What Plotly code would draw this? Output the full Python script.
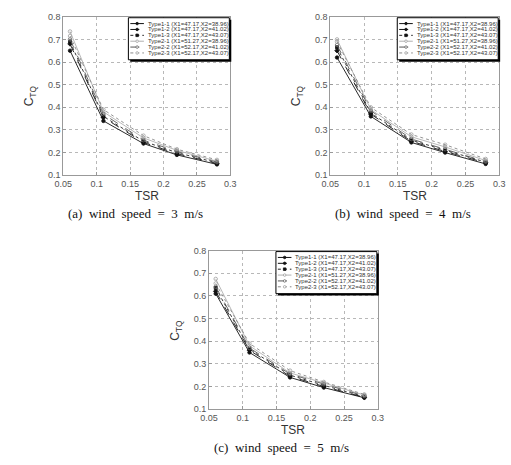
import plotly.graph_objects as go

W, H = 511, 465

tsr = [0.06, 0.11, 0.17, 0.22, 0.28]
series_names = [
    "Type1-1 (X1=47.17,X2=38.96)",
    "Type1-2 (X1=47.17,X2=41.02)",
    "Type1-3 (X1=47.17,X2=43.07)",
    "Type2-1 (X1=51.27,X2=38.96)",
    "Type2-2 (X1=52.17,X2=41.02)",
    "Type2-3 (X1=52.17,X2=43.07)",
]
# wind speed = 3 m/s
ctq_3 = [
    [0.650, 0.340, 0.240, 0.190, 0.148],
    [0.680, 0.355, 0.245, 0.195, 0.152],
    [0.690, 0.360, 0.250, 0.200, 0.155],
    [0.735, 0.380, 0.265, 0.210, 0.162],
    [0.700, 0.370, 0.255, 0.205, 0.158],
    [0.715, 0.390, 0.275, 0.215, 0.168],
]
# wind speed = 4 m/s
ctq_4 = [
    [0.620, 0.360, 0.245, 0.200, 0.150],
    [0.650, 0.370, 0.250, 0.205, 0.155],
    [0.665, 0.375, 0.255, 0.210, 0.158],
    [0.700, 0.390, 0.270, 0.225, 0.165],
    [0.675, 0.385, 0.260, 0.215, 0.160],
    [0.690, 0.400, 0.280, 0.235, 0.172],
]
# wind speed = 5 m/s
ctq_5 = [
    [0.610, 0.350, 0.240, 0.195, 0.150],
    [0.620, 0.360, 0.245, 0.200, 0.152],
    [0.635, 0.365, 0.250, 0.205, 0.155],
    [0.675, 0.380, 0.260, 0.215, 0.162],
    [0.640, 0.370, 0.255, 0.210, 0.158],
    [0.655, 0.390, 0.270, 0.220, 0.165],
]
captions = ["(a)  wind  speed  =  3  m/s", "(b)  wind  speed  =  4  m/s", "(c)  wind  speed  =  5  m/s"]
x_ticks = [0.05, 0.1, 0.15, 0.2, 0.25, 0.3]
x_ticktext = ["0.05", "0.1", "0.15", "0.2", "0.25", "0.3"]
y_ticks = [0.1, 0.2, 0.3, 0.4, 0.5, 0.6, 0.7, 0.8]
y_ticktext = ["0.1", "0.2", "0.3", "0.4", "0.5", "0.6", "0.7", "0.8"]

styles = [
    dict(color="#111111", dash="solid", symbol="circle", mcolor="#111111", mfill="#111111", size=3.5),
    dict(color="#111111", dash="dash", symbol="diamond", mcolor="#111111", mfill="#111111", size=3.5),
    dict(color="#222222", dash="dot", symbol="square", mcolor="#111111", mfill="#111111", size=3),
    dict(color="#b0b0b0", dash="solid", symbol="circle-open", mcolor="#a0a0a0", mfill="#ffffff", size=3.5),
    dict(color="#555555", dash="dash", symbol="circle-open", mcolor="#666666", mfill="#ffffff", size=3.5),
    dict(color="#888888", dash="dot", symbol="circle-open", mcolor="#a0a0a0", mfill="#ffffff", size=3.5),
]

panels = [(56, 228, 12, 174), (331, 505, 12, 174), (206, 380, 251, 413)]
datasets = [ctq_3, ctq_4, ctq_5]


def PX(px):
    return px / W


def PY(py):
    return 1 - py / H


fig = go.Figure()
layout_axes = {}
FONT = "Liberation Sans"
annotations = []
shapes = []

for p, ((l, r, t, b), data) in enumerate(zip(panels, datasets)):
    xa = "x" if p == 0 else f"x{p+1}"
    ya = "y" if p == 0 else f"y{p+1}"
    for s, (name, vals) in enumerate(zip(series_names, data)):
        st = styles[s]
        fig.add_trace(go.Scatter(
            x=tsr, y=vals, mode="lines+markers", name=name, showlegend=False,
            xaxis=xa, yaxis=ya,
            line=dict(color=st["color"], width=0.9, dash=st["dash"]),
            marker=dict(symbol=st["symbol"], size=st["size"], color=st["mcolor"],
                        line=dict(color=st["mcolor"], width=0.8)),
        ))
    xkey = "xaxis" if p == 0 else f"xaxis{p+1}"
    ykey = "yaxis" if p == 0 else f"yaxis{p+1}"
    common = dict(showgrid=True, gridcolor="#b8b8b8", griddash="dot", gridwidth=1,
                  showline=True, linecolor="#999999", linewidth=1, mirror=True,
                  ticks="inside", ticklen=3, tickcolor="#999999",
                  tickfont=dict(family=FONT, size=9, color="#555555"), zeroline=False)
    layout_axes[xkey] = dict(domain=[PX(l), PX(r)], anchor=ya, range=[0.05, 0.3],
                             tickvals=x_ticks, ticktext=x_ticktext, **common)
    layout_axes[ykey] = dict(domain=[PY(b), PY(t)], anchor=xa, range=[0.1, 0.8],
                             tickvals=y_ticks, ticktext=y_ticktext, **common)
    cx = (l + r) / 2
    annotations.append(dict(text="TSR", xref="paper", yref="paper", x=PX(cx), y=PY(b + 21),
                            showarrow=False, font=dict(family=FONT, size=12, color="#333333"),
                            xanchor="center", yanchor="middle"))
    annotations.append(dict(text="C<sub>TQ</sub>", xref="paper", yref="paper", x=PX(l - 34),
                            y=PY((t + b) / 2), textangle=-90, showarrow=False,
                            font=dict(family=FONT, size=12, color="#333333"),
                            xanchor="center", yanchor="middle"))
    annotations.append(dict(text=captions[p].replace(" ", "\u00a0"), xref="paper", yref="paper",
                            x=PX(cx - 12), y=PY(b + 39), showarrow=False,
                            font=dict(family="Liberation Serif", size=13, color="#111111"),
                            xanchor="center", yanchor="middle"))
    lr = r - 1
    ll = lr - 104
    lt = t + 1
    lb = lt + 43
    shapes.append(dict(type="rect", xref="paper", yref="paper", x0=PX(ll + 2), x1=PX(lr + 2),
                       y0=PY(lt + 2), y1=PY(lb + 2), fillcolor="#000000", line=dict(width=0)))
    shapes.append(dict(type="rect", xref="paper", yref="paper", x0=PX(ll), x1=PX(lr),
                       y0=PY(lt), y1=PY(lb), fillcolor="#ffffff", line=dict(color="#000000", width=1)))
    for s, name in enumerate(series_names):
        st = styles[s]
        yy = lt + 6 + s * 6.0
        shapes.append(dict(type="line", xref="paper", yref="paper", x0=PX(ll + 2), x1=PX(ll + 16),
                           y0=PY(yy), y1=PY(yy), line=dict(color=st["color"], width=1, dash=st["dash"])))
        rad = 1.3
        shapes.append(dict(type="rect" if st["symbol"] == "square" else "circle",
                           xref="paper", yref="paper", x0=PX(ll + 9 - rad), x1=PX(ll + 9 + rad),
                           y0=PY(yy - rad), y1=PY(yy + rad), fillcolor=st["mfill"],
                           line=dict(color=st["mcolor"], width=0.8)))
        annotations.append(dict(text=name, xref="paper", yref="paper", x=PX(ll + 18), y=PY(yy),
                                showarrow=False, xanchor="left", yanchor="middle",
                                font=dict(family=FONT, size=6, color="#333333")))

fig.update_layout(
    width=W, height=H, margin=dict(l=0, r=0, t=0, b=0),
    paper_bgcolor="white", plot_bgcolor="white",
    showlegend=False, annotations=annotations, shapes=shapes,
    **layout_axes,
)
fig.write_html("out.html")
